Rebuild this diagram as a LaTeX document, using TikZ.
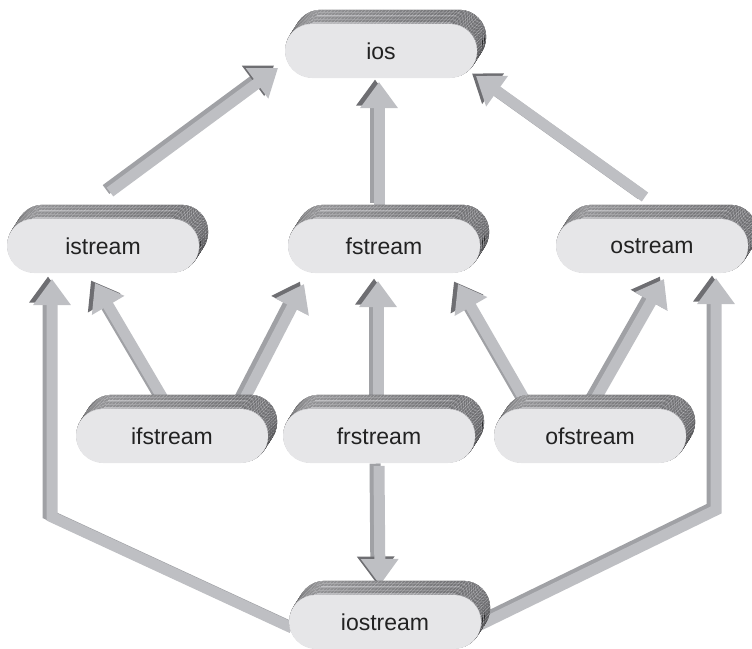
\documentclass[tikz,border=0pt]{standalone}
\usepackage{fontspec}
\setmainfont{Liberation Sans}
\usepackage{tikz}
\usetikzlibrary{arrows.meta,calc,backgrounds,patterns.meta}

\definecolor{faceC}{HTML}{E6E6E8}
\definecolor{extL}{HTML}{C6C6C9}
\definecolor{extD}{HTML}{8E8E92}
\definecolor{hatchC}{HTML}{808084}
\definecolor{arrL}{HTML}{BEBFC3}
\definecolor{arrD}{HTML}{A0A1A5}
\definecolor{headD}{HTML}{6E6E72}
\definecolor{txtC}{HTML}{222222}

\begin{document}
\begin{tikzpicture}[
    x=1pt, y=-1pt,
    pill/.style={
      rectangle,
      rounded corners=27pt,
      minimum width=192pt,
      minimum height=54pt,
      fill=faceC,
      draw=none,
      text=txtC,
      font=\fontsize{23}{27}\selectfont
    },
    extr/.style={
      rounded corners=27pt,
      left color=extL,
      right color=extD,
      postaction={pattern={Lines[angle=45,distance=2.4pt,line width=0.4pt]},
        pattern color=hatchC!45}
    },
    arr/.style={
      line width=11pt,
      draw=arrL,
      -{Triangle[width=36pt,length=26pt,color=arrL]}
    },
    arrsh/.style={
      line width=11pt,
      draw=arrD,
      transform canvas={xshift=-4pt,yshift=2.5pt},
      -{Triangle[width=36pt,length=26pt,color=headD]}
    }
  ]
  \useasboundingbox (0,0) rectangle (752,648);

  % classes
  \node[pill] (ios)      at (381,51)  {ios};
  \node[pill] (istream)  at (103,246) {istream};
  \node[pill] (fstream)  at (384,246) {fstream};
  \node[pill] (ostream)  at (652,246) {ostream};
  \node[pill] (ifstream) at (172,436) {ifstream};
  \node[pill] (frstream) at (379,436) {frstream};
  \node[pill] (ofstream) at (590,436) {ofstream};
  \node[pill] (iostream) at (385,622) {iostream};

  \begin{scope}[on background layer]
    % inheritance arrows
    \foreach \s in {arrsh,arr} {
      \draw[\s] ($(istream)+(7,-54)$) -- ($(ios)+(-103,17)$);
      \draw[\s] ($(fstream)+(-5,-41)$) -- ($(ios)+(-2,31)$);
      \draw[\s] ($(ostream)+(-7,-49)$) -- ($(ios)+(95,25)$);
      \draw[\s] ($(ifstream)+(-7,-34)$) -- ($(istream)+(-8,37)$);
      \draw[\s] ($(ifstream)+(71,-34)$) -- ($(fstream)+(-80,38)$);
      \draw[\s] ($(frstream)+(-1,-34)$) -- ($(fstream)+(-6,35)$);
      \draw[\s] ($(ofstream)+(-64,-34)$) -- ($(fstream)+(74,38)$);
      \draw[\s] ($(ofstream)+(4,-34)$) -- ($(ostream)+(12,33)$);
      \draw[\s] ($(frstream)+(0,30)$) -- ($(iostream)+(-5,-37)$);
      \draw[\s] ($(iostream)+(-93,6)$) -- ($(istream)+(-51,271)$)
        -- ($(istream)+(-51,33)$);
      \draw[\s] ($(iostream)+(93,4)$) -- ($(ostream)+(64,264)$)
        -- ($(ostream)+(64,32)$);
    }
    % extruded sides of the pills
    \foreach \n in {ios,istream,fstream,ostream,ifstream,frstream,ofstream,iostream}
      \foreach \k in {18,...,1}
        \fill[extr] ($(\n.south west)+(0.5*\k,-0.78*\k)$)
          rectangle ($(\n.north east)+(0.5*\k,-0.78*\k)$);
  \end{scope}
\end{tikzpicture}
\end{document}
